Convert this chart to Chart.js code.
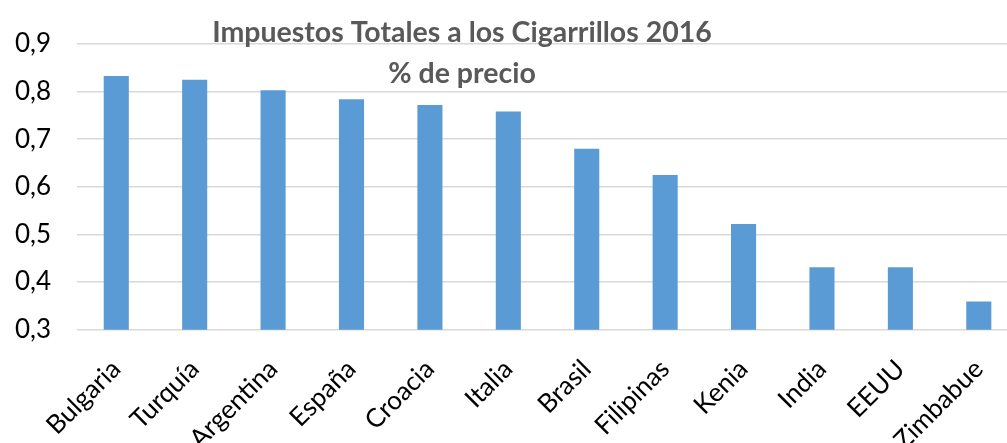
<!DOCTYPE html>
<html lang="es">
<head>
<meta charset="UTF-8">
<title>Impuestos Totales a los Cigarrillos 2016</title>
<script src="https://cdn.jsdelivr.net/npm/chart.js@4.4.1/dist/chart.umd.min.js"></script>
<style>
  html, body { margin: 0; padding: 0; background: #fff; overflow: hidden; }
  /* plot runs a little past the right edge of the window, as in the original */
  #wrap { width: 1018px; height: 443px; position: relative; }
</style>
</head>
<body>
<div id="wrap"><canvas id="chart"></canvas></div>
<script>
// data
const categories = ['Bulgaria', 'Turquía', 'Argentina', 'España', 'Croacia', 'Italia',
                    'Brasil', 'Filipinas', 'Kenia', 'India', 'EEUU', 'Zimbabue'];
const values = [0.833, 0.825, 0.803, 0.784, 0.772, 0.758, 0.680, 0.625, 0.522, 0.431, 0.431, 0.359];
const yMin = 0.3;
const yMax = 0.9;
const yStep = 0.1;
const titleLines = ['Impuestos Totales a los Cigarrillos 2016', '% de precio'];

// title sits over the plot area like in the Excel original
const overlayTitle = {
  id: 'overlayTitle',
  afterDraw(chart) {
    const ctx = chart.ctx;
    ctx.save();
    ctx.fillStyle = '#595959';
    ctx.font = 'bold 28.5px Lato';
    ctx.textAlign = 'center';
    ctx.textBaseline = 'alphabetic';
    ctx.fillText(titleLines[0], 462, 42);
    ctx.fillText(titleLines[1], 462, 83);
    ctx.restore();
  }
};

new Chart(document.getElementById('chart'), {
  type: 'bar',
  data: {
    labels: categories,
    datasets: [{
      data: values,
      backgroundColor: '#5B9BD5',
      barPercentage: 0.32,
      categoryPercentage: 1
    }]
  },
  options: {
    responsive: true,
    maintainAspectRatio: false,
    animation: false,
    layout: { padding: { left: -11, right: 0, top: 44, bottom: -29 } },
    plugins: {
      legend: { display: false },
      tooltip: { enabled: false }
    },
    scales: {
      x: {
        grid: { display: false },
        border: { display: false },
        ticks: {
          color: '#000',
          font: { family: 'Lato', size: 26 },
          minRotation: 45,
          maxRotation: 45,
          padding: 16
        }
      },
      y: {
        min: yMin,
        max: yMax,
        grid: { color: '#d9d9d9', lineWidth: 1.5, drawTicks: false },
        border: { display: false },
        ticks: {
          stepSize: yStep,
          color: '#000',
          padding: 26,
          font: { family: 'Lato', size: 26 },
          callback: v => v.toFixed(1).replace('.', ',')
        }
      }
    }
  },
  plugins: [overlayTitle]
});
</script>
</body>
</html>
